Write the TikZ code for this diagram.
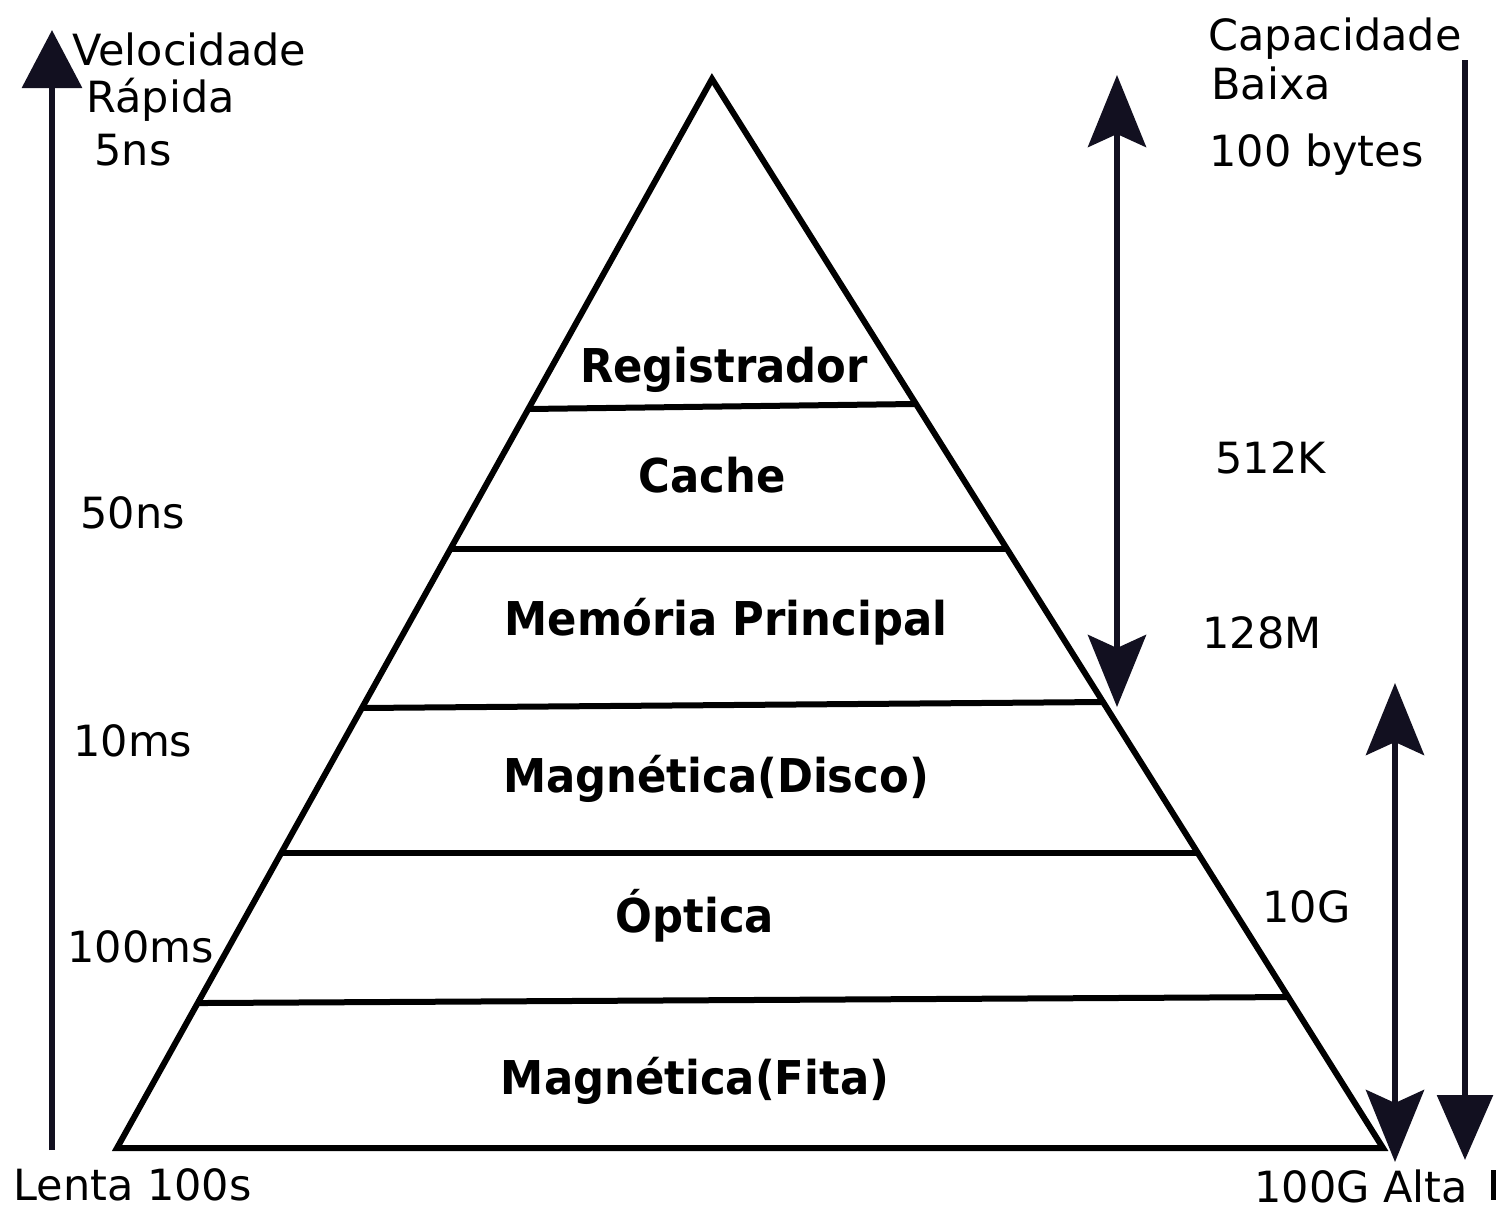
\documentclass[tikz,border=0pt]{standalone}
\usepackage{fontspec}
\setmainfont{DejaVu Sans}
\newfontfamily\lblfont[FakeStretch=0.93]{DejaVu Sans}
\usetikzlibrary{arrows.meta,calc}
\definecolor{arrowc}{RGB}{18,16,32}
\tikzset{
  edgeline/.style={line width=3pt, line join=miter},
  divider/.style={line width=3pt},
  txt/.style={font=\fontsize{21.5}{25}\selectfont, inner sep=0pt, anchor=base west},
  lbl/.style={font=\lblfont\bfseries\fontsize{23.3}{27}\selectfont, inner sep=0pt, anchor=base},
  dblarrow/.style={line width=3pt, draw=arrowc, {Stealth[length=36pt,width=29pt,inset=6.5pt]}-{Stealth[length=36pt,width=29pt,inset=6.5pt]}},
  singlearrow/.style={line width=3.3pt, draw=arrowc, -{Triangle[length=29pt,width=29.5pt]}},
}
\begin{document}
\begin{tikzpicture}[x=0.5pt,y=-0.5pt]
\useasboundingbox (0,0) rectangle (1499,1211);
% pyramid
\coordinate (A) at (712,79);
\coordinate (BL) at (117,1148);
\coordinate (BR) at (1383,1148);
\draw[edgeline] (A) -- (BL) -- (BR) -- cycle;
\coordinate (d1l) at ($(A)!0.3087!(BL)$);
\coordinate (d1r) at ($(A)!0.3040!(BR)$);
\coordinate (d2l) at ($(A)!0.4397!(BL)$);
\coordinate (d2r) at ($(A)!0.4397!(BR)$);
\coordinate (d3l) at ($(A)!0.5884!(BL)$);
\coordinate (d3r) at ($(A)!0.5828!(BR)$);
\coordinate (d4l) at ($(A)!0.7240!(BL)$);
\coordinate (d4r) at ($(A)!0.7240!(BR)$);
\coordinate (d5l) at ($(A)!0.8644!(BL)$);
\coordinate (d5r) at ($(A)!0.8588!(BR)$);
\draw[divider] (d1l) -- (d1r);
\draw[divider] (d2l) -- (d2r);
\draw[divider] (d3l) -- (d3r);
\draw[divider] (d4l) -- (d4r);
\draw[divider] (d5l) -- (d5r);
% layer labels
\node[lbl] (reg) at (724,382) {Registrador};
\node[lbl] (cache) at (712,492) {Cache};
\node[lbl] (mem) at (726,635) {Memória Principal};
\node[lbl] (disco) at (716,792) {Magnética(Disco)};
\node[lbl] (opt) at (695,932) {Óptica};
\node[lbl] (fita) at (695,1094) {Magnética(Fita)};
% arrows
\coordinate (vb) at (52,1150);
\coordinate (vt) at (52,30);
\draw[singlearrow] (vb) -- (vt);
\coordinate (m1) at (1117,75);
\coordinate (m2) at (1117,707);
\draw[dblarrow] (m1) -- (m2);
\coordinate (r1) at (1395,683);
\coordinate (r2) at (1395,1162);
\draw[dblarrow] (r1) -- (r2);
\coordinate (ct) at (1465,60);
\coordinate (cb) at (1465,1160);
\draw[singlearrow, -{Triangle[length=32.5pt,width=27.5pt]}, line width=3pt] (ct) -- (cb);
\coordinate (bar1) at (1493,1170);
\coordinate (bar2) at (1493,1200);
\draw[line width=2.5pt] (bar1) -- (bar2);
% left texts
\node[txt] (vel) at (72,65) {Velocidade};
\node[txt] (rap) at (86,112) {Rápida};
\node[txt] (t5ns) at (94,165) {5ns};
\node[txt] (t50ns) at (80,528) {50ns};
\node[txt] (t10ms) at (73,756) {10ms};
\node[txt] (t100ms) at (67,962) {100ms};
\node[txt] (lenta) at (13,1200) {Lenta 100s};
% right texts
\node[txt] (cap) at (1208,50) {Capacidade};
\node[txt] (baixa) at (1211,99) {Baixa};
\node[txt] (bytes) at (1209,166) {100 bytes};
\node[txt] (t512) at (1215,473) {512K};
\node[txt] (t128) at (1202,648) {128M};
\node[txt] (t10g) at (1262,922) {10G};
\node[txt] (alta) at (1254,1202) {100G Alta};
\end{tikzpicture}
\end{document}
